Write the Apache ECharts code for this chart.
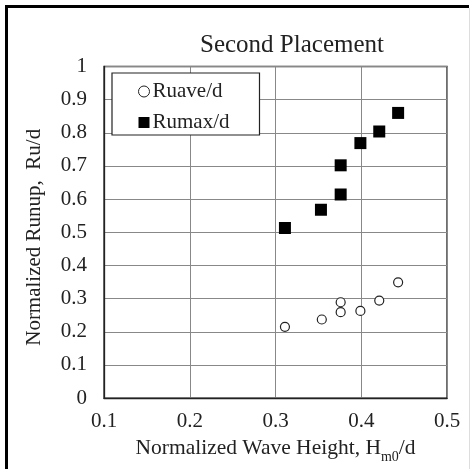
<!DOCTYPE html>
<html>
<head>
<meta charset="utf-8">
<script src="https://cdn.jsdelivr.net/npm/echarts@6/dist/echarts.min.js"></script>
<style>
html,body{margin:0;padding:0;background:#fff;}
#c{width:473px;height:469px;}
</style>
</head>
<body>
<div id="c"></div>
<script>
var titleText = 'Second Placement';
var xTicks = [0.1, 0.2, 0.3, 0.4, 0.5];
var yTicks = [0, 0.1, 0.2, 0.3, 0.4, 0.5, 0.6, 0.7, 0.8, 0.9, 1];
var seriesNames = ['Ruave/d', 'Rumax/d'];
var waveHeight = [0.311, 0.354, 0.376, 0.376, 0.399, 0.421, 0.443];
var ruave = [0.215, 0.237, 0.289, 0.259, 0.263, 0.294, 0.349];
var rumaxX = [0.311, 0.353, 0.376, 0.376, 0.399, 0.421, 0.443];
var rumax = [0.513, 0.568, 0.614, 0.702, 0.769, 0.804, 0.860];

function pairs(xs, ys) { return xs.map(function (x, i) { return [x, ys[i]]; }); }

var font = '"Liberation Serif", "Times New Roman", serif';
var chart = echarts.init(document.getElementById('c'), null, {renderer: 'canvas'});
chart.setOption({
  animation: false,
  backgroundColor: '#fff',
  textStyle: {fontFamily: font},
  title: {
    text: titleText,
    left: 195, top: 28,
    textStyle: {fontFamily: font, fontSize: 25, fontWeight: 'normal', color: '#222'}
  },
  graphic: [
    {type: 'line', shape: {x1: 6.5, y1: 5, x2: 6.5, y2: 469}, style: {stroke: '#000', lineWidth: 3}},
    {type: 'line', shape: {x1: 5, y1: 6.5, x2: 469, y2: 6.5}, style: {stroke: '#000', lineWidth: 3}},
    {type: 'line', shape: {x1: 469.5, y1: 8, x2: 469.5, y2: 469}, style: {stroke: '#ddd', lineWidth: 1}}
  ],
  legend: {
    orient: 'vertical',
    left: 112, top: 73,
    padding: [8, 30, 2, 26],
    itemGap: 10,
    itemWidth: 11, itemHeight: 11,
    borderColor: '#222', borderWidth: 1.2,
    backgroundColor: '#fff',
    textStyle: {fontFamily: font, fontSize: 21, color: '#222', padding: [0, 0, 0, -2]},
    data: [
      {name: seriesNames[0], icon: 'circle', itemStyle: {color: '#fff', borderColor: '#222', borderWidth: 1}},
      {name: seriesNames[1], icon: 'rect', itemStyle: {color: '#000'}}
    ]
  },
  grid: {left: 104, right: 26, top: 66.5, bottom: 59, show: true, borderColor: '#222', borderWidth: 1.3, backgroundColor: 'transparent'},
  xAxis: {
    type: 'value', min: xTicks[0], max: xTicks[xTicks.length - 1], interval: 0.1,
    name: '{a|Normalized Wave Height, H}{s|m0}{a|/d}',
    nameLocation: 'middle', nameGap: 31,
    nameTextStyle: {
      rich: {
        a: {fontFamily: font, fontSize: 21.5, color: '#222', lineHeight: 24, verticalAlign: 'bottom'},
        s: {fontFamily: font, fontSize: 14, color: '#222', lineHeight: 24, verticalAlign: 'bottom', padding: [0, 0, -5, 0]}
      }
    },
    axisLine: {show: true, lineStyle: {color: '#222', width: 1.3}},
    axisTick: {show: false},
    splitLine: {show: true, lineStyle: {color: '#888', width: 1}},
    axisLabel: {fontFamily: font, fontSize: 21, color: '#222', margin: 13,
      formatter: function (v) { return String(Math.round(v * 10) / 10); }}
  },
  yAxis: {
    type: 'value', min: yTicks[0], max: yTicks[yTicks.length - 1], interval: 0.1,
    name: 'Normalized Runup,  Ru/d',
    nameLocation: 'middle', nameGap: 59, nameRotate: 90,
    nameTextStyle: {fontFamily: font, fontSize: 21, color: '#222', padding: [0, 10, 0, 0]},
    axisLine: {show: true, lineStyle: {color: '#222', width: 1.3}},
    axisTick: {show: false},
    splitLine: {show: true, lineStyle: {color: '#888', width: 1}},
    axisLabel: {fontFamily: font, fontSize: 21, color: '#222', margin: 17,
      formatter: function (v) { return String(Math.round(v * 10) / 10); }}
  },
  series: [
    {
      name: seriesNames[0], type: 'scatter', symbol: 'circle', symbolSize: 9,
      itemStyle: {color: '#fff', borderColor: '#222', borderWidth: 1.2, opacity: 1},
      data: pairs(waveHeight, ruave), z: 3
    },
    {
      name: seriesNames[1], type: 'scatter', symbol: 'rect', symbolSize: 12,
      itemStyle: {color: '#000', opacity: 1},
      data: pairs(rumaxX, rumax), z: 3
    }
  ]
});
</script>
</body>
</html>
